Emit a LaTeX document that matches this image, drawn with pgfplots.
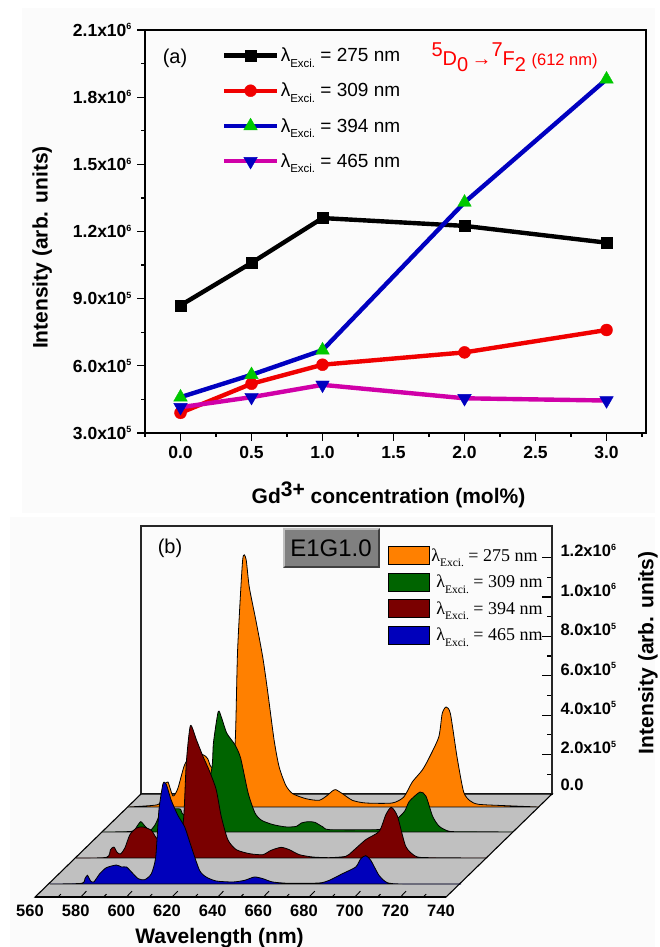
\documentclass[border=0pt]{standalone}
\usepackage{pgfplots}
\pgfplotsset{compat=1.18}
\usepackage{fontspec}
\setmainfont{Liberation Sans}
\newfontfamily\timesf{Liberation Serif}
\definecolor{panel}{HTML}{FBFBFB}
\definecolor{cblack}{HTML}{000000}
\definecolor{cred}{HTML}{F00000}
\definecolor{cblue}{HTML}{0000C0}
\definecolor{cgreen}{HTML}{00C800}
\definecolor{cmag}{HTML}{D000A8}
\definecolor{ora}{HTML}{FF8000}
\definecolor{grn}{HTML}{006400}
\definecolor{drd}{HTML}{7A0000}
\definecolor{blu}{HTML}{0000BB}
\definecolor{flr}{HTML}{C0C0C0}
\newcommand\sci[2]{#1x10\raisebox{6.5pt}{\fontsize{9}{9}\selectfont #2}}
\newcommand\lex{λ\raisebox{-5.5pt}{\fontsize{11.5}{11.5}\selectfont Exci.}}
\pgfplotsset{
  linelegend/.style={legend image code/.code={%
    \draw[mark repeat=2,mark phase=2,##1] plot coordinates {(0pt,0pt)(26.5pt,0pt)(53pt,0pt)};}},
}
\begin{document}
\begin{tikzpicture}[x=1pt,y=1pt]
\path[use as bounding box] (0,0) rectangle (660,947);
\fill[panel] (22,434) rectangle (655,939);
\fill[panel] (10,0) rectangle (655,430);
% ---------- panel (a)
\begin{axis}[
  at={(145pt,514pt)},anchor=south west,
  scale only axis,width=501pt,height=403pt,
  xmin=-0.25,xmax=3.278,ymin=3e5,ymax=2.1e6,
  axis line style={line width=1.4pt},
  tick style={line width=1.3pt,black},
  tick align=outside,
  xtick pos=bottom,ytick pos=left,
  major tick length=8pt,minor tick length=4pt,
  xtick={0,0.5,1,1.5,2,2.5,3},
  xticklabels={0.0,0.5,1.0,1.5,2.0,2.5,3.0},
  minor xtick={-0.25,0.25,0.75,1.25,1.75,2.25,2.75,3.25},
  ytick={3e5,6e5,9e5,1.2e6,1.5e6,1.8e6,2.1e6},
  yticklabels={\sci{3.0}{5},\sci{6.0}{5},\sci{9.0}{5},\sci{1.2}{6},\sci{1.5}{6},\sci{1.8}{6},\sci{2.1}{6}},
  minor y tick num=1,
  scaled y ticks=false,
  tick label style={font=\bfseries\fontsize{17.5}{17.5}\selectfont},
  yticklabel style={xshift=-2pt},
  xticklabel style={yshift=-2pt},
  xlabel={\bfseries Gd\raisebox{7pt}{3+} concentration (mol\%)},
  ylabel={\bfseries Intensity (arb. units)},
  xlabel style={font=\fontsize{21}{21}\selectfont,at={(axis description cs:0.486,-0.154)},anchor=center},
  ylabel style={font=\fontsize{21}{21}\selectfont,at={(axis description cs:-0.205,0.46)},anchor=center,rotate=0},
  legend style={at={(axis description cs:0.153,0.96)},anchor=north west,draw=none,fill=none,
    row sep=17pt,inner sep=0pt,font=\fontsize{19}{19}\selectfont,
    nodes={inner sep=1.5pt,anchor=west}},
  legend cell align=left,
  linelegend,
  clip=false,
]
\addplot[cblack,line width=4.4pt,mark=square*,mark size=5.5pt,mark options={fill=cblack,draw=cblack,line width=.4pt}]
  coordinates {(0,8.7e5)(0.5,1.06e6)(1,1.26e6)(2,1.225e6)(3,1.15e6)};
\addplot[cred,line width=4.4pt,mark=*,mark size=6pt,mark options={fill=cred,draw=cred,line width=.4pt}]
  coordinates {(0,3.9e5)(0.5,5.2e5)(1,6.05e5)(2,6.6e5)(3,7.6e5)};
\addplot[cblue,line width=4.4pt,mark=triangle*,mark size=7.8pt,mark options={fill=cgreen,draw=cgreen,line width=.4pt}]
  coordinates {(0,4.6e5)(0.5,5.6e5)(1,6.7e5)(2,1.33e6)(3,1.88e6)};
\addplot[cmag,line width=4.4pt,mark=triangle*,mark size=7.8pt,mark options={fill=cblue,draw=cblue,line width=.4pt,rotate=180}]
  coordinates {(0,4.15e5)(0.5,4.6e5)(1,5.15e5)(2,4.55e5)(3,4.45e5)};
\legend{\lex{} = 275 nm,\lex{} = 309 nm,\lex{} = 394 nm,\lex{} = 465 nm}
\end{axis}
\node[anchor=center,font=\fontsize{20}{20}\selectfont] at (175,889) {(a)};
\node[anchor=west,text=red,font=\fontsize{20}{20}\selectfont] at (428,890)
  {\raisebox{9pt}{5}D\raisebox{-6pt}{0}\,\textrm{→}\raisebox{9pt}{7}F\raisebox{-6pt}{2} \fontsize{16.5}{16.5}\selectfont(612 nm)};
% ---------- panel (b)
\begin{axis}[
  at={(141pt,153pt)},anchor=south west,
  scale only axis,width=411pt,height=268pt,
  xmin=560,xmax=740,ymin=0,ymax=1.36e6,
  clip=false,
  axis line style={line width=1.2pt,draw=black!85},
  xtick=\empty,
  ytick pos=right,
  tick align=inside,
  tick style={line width=1.2pt,black},
  major tick length=10pt,minor tick length=5pt,
  ytick={0,2e5,4e5,6e5,8e5,1e6,1.2e6},
  yticklabels={\raisebox{4pt}{0.0},\sci{2.0}{5},\sci{4.0}{5},\sci{6.0}{5},\sci{8.0}{5},\sci{1.0}{6},\sci{1.2}{6}},
  minor y tick num=1,
  scaled y ticks=false,
  yticklabel style={font=\bfseries\fontsize{16.5}{16.5}\selectfont,yshift=7pt,xshift=5pt},
  ylabel={\bfseries Intensity (arb. units)},
  ylabel style={font=\fontsize{21}{21}\selectfont,at={(axis description cs:1.2336,0.527)},anchor=center,rotate=0},
  legend style={at={(axis description cs:0.601,0.925)},anchor=north west,draw=none,fill=none,
    row sep=8pt,inner sep=0pt,font=\timesf\fontsize{18}{18}\selectfont,
    nodes={inner sep=1.5pt,anchor=west}},
  legend cell align=left,
]
\addplot[fill=flr,draw=black,line width=1.1pt,forget plot]
  coordinates {(560,0)(740,0)(693.6,-5.23e5)(513.6,-5.23e5)} --cycle;
% back to front
\addplot[fill=ora,draw=black,line width=.8pt,smooth,tension=0.4,forget plot,xshift=-13pt,yshift=-13pt]
  coordinates {(560,0)(572.4,10200)(574.6,33800)(576,110000)(577.5,126900)(579.7,55800)(581.8,93100)(584.7,211500)(587.7,262300)(592.8,265600)(594.9,245300)(596.4,203000)(600,194600)(604.4,220000)(606.9,321500)(608,795200)(610.2,1252100)(611.7,1257200)(613.1,1116700)(616,947500)(619,761400)(621.1,592200)(624,338400)(626.2,203000)(629.1,110000)(632.1,67700)(637.9,42300)(643.7,33800)(647.3,59200)(649.5,81200)(651,88000)(653.9,67700)(658.3,33800)(664.1,20300)(675.7,20300)(680.8,50800)(684.5,126900)(688.8,186100)(691.7,245300)(696.1,355300)(697.6,473800)(699.3,507600)(701.2,473800)(704.1,253800)(707,76100)(709.9,30500)(713.6,13500)(725.2,6800)(740,0)} --cycle;
\addplot[fill=grn,draw=black,line width=.8pt,smooth,tension=0.4,forget plot,xshift=-39pt,yshift=-38pt]
  coordinates {(560,0)(573.1,3400)(575.3,28800)(577,52500)(578.9,28800)(581.1,8500)(583.3,37200)(585.5,88000)(589.8,113400)(594.2,116700)(595.7,88000)(602.9,79500)(608,316400)(608.8,451800)(610.9,610800)(612.4,578700)(614.6,502500)(618.2,443300)(620.7,375600)(624,198000)(627,96400)(629.9,59200)(635,37200)(640.8,25400)(645.2,28800)(647.3,45700)(650.2,52500)(653.2,49100)(656.8,25400)(659.7,11800)(680.1,11800)(683,20300)(688.8,62600)(692.5,104900)(694.6,155700)(699.3,203000)(701.9,181000)(704.8,79500)(707.7,28800)(712.1,3400)(719.4,1700)(740,0)} --cycle;
\addplot[fill=drd,draw=black,line width=.8pt,smooth,tension=0.4,forget plot,xshift=-65pt,yshift=-64pt]
  coordinates {(560,0)(573.4,3400)(575.1,42300)(576.6,55800)(578,28800)(579.5,20300)(581.4,50800)(583.6,118400)(586.5,152300)(589.4,157400)(593,140400)(595.2,101500)(598.1,76100)(605.4,76100)(607.2,211500)(608.3,482200)(610.1,671700)(612.7,600700)(615.6,516100)(618.5,439900)(621.4,346900)(623.6,211500)(626.5,93100)(630.2,42300)(636,22000)(641.8,16900)(645.4,38900)(649.8,54100)(653.4,42300)(657.8,16900)(663.6,5100)(670.9,1700)(678.2,8500)(681.1,33800)(686.9,93100)(692.8,135400)(695.7,220000)(698.1,257200)(700.8,211500)(704.4,59200)(708.8,8500)(714.6,1700)(740,0)} --cycle;
\addplot[fill=blu,draw=black,line width=.8pt,smooth,tension=0.4,forget plot,xshift=-91pt,yshift=-90pt]
  coordinates {(560,0)(573.8,3400)(575.3,27100)(576.4,44000)(577.8,15200)(579.2,10200)(581.8,52500)(584.7,82900)(589.1,96400)(591.3,86300)(593.5,86300)(595.7,60900)(598.6,27100)(601.5,22000)(604.4,52500)(606.3,137100)(607.7,373900)(609.5,509300)(610.9,505900)(613.1,424700)(616,348600)(619,289300)(621.9,187800)(625.5,69400)(628.4,35500)(632.8,15200)(640.1,10200)(645.2,18600)(649.5,35500)(653.2,27100)(657.5,10200)(664.8,3400)(677.9,5100)(682.3,18600)(688.1,52500)(693.9,86300)(696.1,128600)(698.3,143800)(700.5,120100)(704.1,44000)(707.7,6800)(714.3,0)(740,0)} --cycle;
% oblique ticks on the front edge of the floor
\addplot[black,line width=.9pt,forget plot,unbounded coords=jump]
  coordinates {(523.6,-5.23e5)(524.9,-5.08e5)(nan,nan)(533.6,-5.23e5)(536.1,-4.93e5)(nan,nan)
  (543.6,-5.23e5)(544.9,-5.08e5)(nan,nan)(553.6,-5.23e5)(556.1,-4.93e5)(nan,nan)
  (563.6,-5.23e5)(564.9,-5.08e5)(nan,nan)(573.6,-5.23e5)(576.1,-4.93e5)(nan,nan)
  (583.6,-5.23e5)(584.9,-5.08e5)(nan,nan)(593.6,-5.23e5)(596.1,-4.93e5)(nan,nan)
  (603.6,-5.23e5)(604.9,-5.08e5)(nan,nan)(613.6,-5.23e5)(616.1,-4.93e5)(nan,nan)
  (623.6,-5.23e5)(624.9,-5.08e5)(nan,nan)(633.6,-5.23e5)(636.1,-4.93e5)(nan,nan)
  (643.6,-5.23e5)(644.9,-5.08e5)(nan,nan)(653.6,-5.23e5)(656.1,-4.93e5)(nan,nan)
  (663.6,-5.23e5)(664.9,-5.08e5)(nan,nan)(673.6,-5.23e5)(676.1,-4.93e5)(nan,nan)
  (683.6,-5.23e5)(684.9,-5.08e5)};
\addlegendimage{legend image code/.code={\draw[fill=ora,draw=black,line width=.6pt] (0pt,-9pt) rectangle (41pt,9pt);}}
\addlegendentry{\lex{} = 275 nm}
\addlegendimage{legend image code/.code={\draw[fill=grn,draw=black,line width=.6pt] (0pt,-9pt) rectangle (41pt,9pt);}}
\addlegendentry{\hspace{5pt}\lex{} = 309 nm}
\addlegendimage{legend image code/.code={\draw[fill=drd,draw=black,line width=.6pt] (0pt,-9pt) rectangle (41pt,9pt);}}
\addlegendentry{\hspace{5pt}\lex{} = 394 nm}
\addlegendimage{legend image code/.code={\draw[fill=blu,draw=black,line width=.6pt] (0pt,-9pt) rectangle (41pt,9pt);}}
\addlegendentry{\hspace{5pt}\lex{} = 465 nm}
\end{axis}
% front-edge wavelength scale
\begin{axis}[
  at={(35pt,50pt)},anchor=south west,
  scale only axis,width=411pt,height=5pt,
  xmin=560,xmax=740,ymin=0,ymax=1,
  axis x line*=bottom,axis y line=none,
  axis line style={line width=1.1pt,-},
  major tick length=0pt,
  xtick={560,580,600,620,640,660,680,700,720,740},
  xticklabels={560,580,600,620,640,660,680,700,720,740},
  xticklabel style={font=\bfseries\fontsize{16.5}{16.5}\selectfont,xshift=-5pt,yshift=-4pt},
  xlabel={\bfseries Wavelength (nm)},
  xlabel style={font=\fontsize{21}{21}\selectfont,at={(axis description cs:0.449,-8.2)},anchor=center},
]
\end{axis}
\node[font=\fontsize{20}{20}\selectfont] at (170,399) {(b)};
\fill[black!75] (283,379) rectangle (380,419);
\fill[flr] (283,419) -- (380,419) -- (378,417) -- (285,417) -- (285,381) -- (283,379) -- cycle;
\fill[gray] (285,381) rectangle (378,417);
\node[font=\fontsize{24}{24}\selectfont] at (331,399) {E1G1.0};
\end{tikzpicture}
\end{document}
